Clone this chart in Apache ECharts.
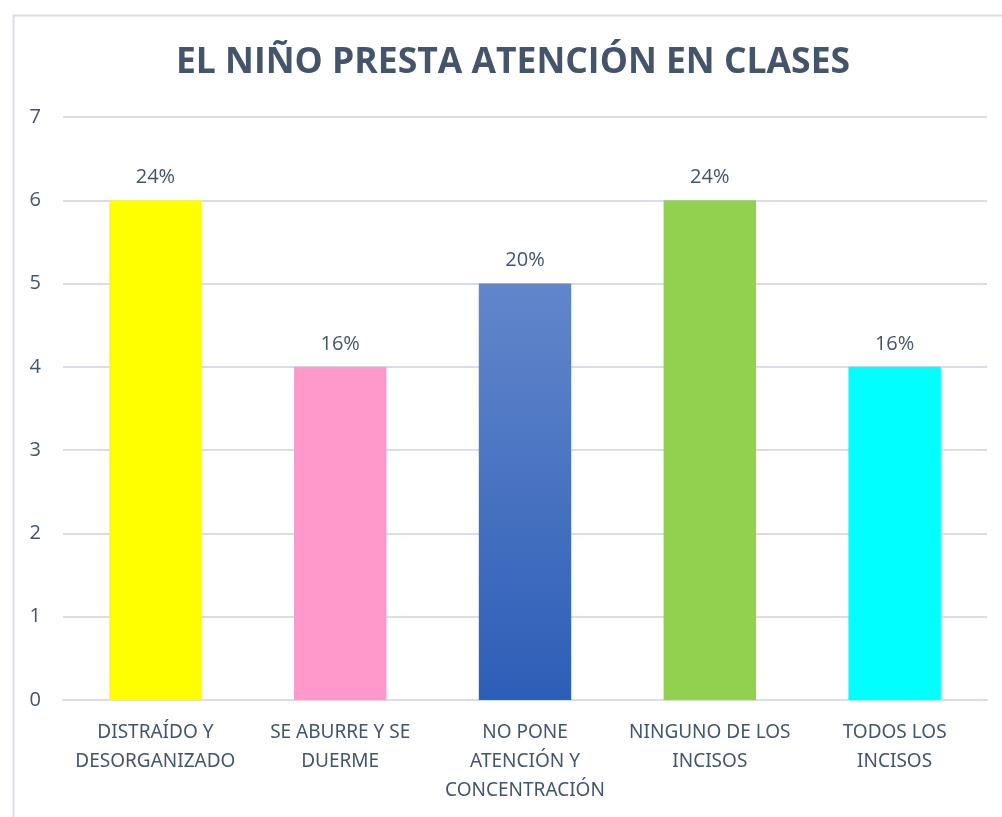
<!DOCTYPE html>
<html>
<head>
<meta charset="utf-8">
<script src="https://cdn.jsdelivr.net/npm/echarts@6/dist/echarts.min.js"></script>
<style>
html,body{margin:0;padding:0;background:#fff;}
#chart{width:1002px;height:817px;}
</style>
</head>
<body>
<div id="chart"></div>
<script>
const titleText = 'EL NIÑO PRESTA ATENCIÓN EN CLASES';
const categories = ['DISTRAÍDO Y\nDESORGANIZADO', 'SE ABURRE Y SE\nDUERME', 'NO PONE\nATENCIÓN Y\nCONCENTRACIÓN', 'NINGUNO DE LOS\nINCISOS', 'TODOS LOS\nINCISOS'];
const values = [6, 4, 5, 6, 4];
const percentLabels = ['24%', '16%', '20%', '24%', '16%'];
const yTicks = [0, 1, 2, 3, 4, 5, 6, 7];

const textColor = '#44546A';
const fontFam = '"Liberation Sans Narrow", "Noto Sans", sans-serif';
const barColors = [
  '#FFFF00',
  '#FF99CC',
  {type:'linear', x:0, y:0, x2:0, y2:1, colorStops:[{offset:0, color:'#6286CB'},{offset:1, color:'#2D5EB7'}]},
  '#92D050',
  '#00FFFF'
];

const chart = echarts.init(document.getElementById('chart'));
chart.setOption({
  backgroundColor: '#fff',
  animation: false,
  title: {
    text: titleText,
    left: 508,
    textAlign: 'center',
    top: 40,
    textStyle: {color: textColor, fontSize: 35.5, fontWeight: 'bold', fontFamily: '"Open Sans", sans-serif'}
  },
  graphic: [{
    type: 'rect', left: 11, top: 13, shape: {width: 1100, height: 900},
    style: {fill: 'none', stroke: '#D9DEE6', lineWidth: 2}, silent: true, z: -1
  }],
  grid: {left: 63, right: 15, top: 117, bottom: 117, containLabel: false},
  xAxis: {
    type: 'category',
    data: categories,
    axisTick: {show: false},
    axisLine: {lineStyle: {color: '#D9DEE6', width: 2}},
    axisLabel: {color: textColor, fontSize: 19, fontFamily: fontFam, lineHeight: 29, margin: 18, interval: 0}
  },
  yAxis: {
    type: 'value',
    min: yTicks[0], max: yTicks[yTicks.length - 1], interval: 1,
    axisLine: {show: false},
    axisTick: {show: false},
    splitLine: {lineStyle: {color: '#D9DEE6', width: 2}},
    axisLabel: {color: textColor, fontSize: 20, fontFamily: '"Open Sans", sans-serif', margin: 22}
  },
  series: [{
    type: 'bar',
    barWidth: '50%',
    data: values.map((v, i) => ({value: v, itemStyle: {color: barColors[i]}})),
    label: {
      show: true, position: 'top', distance: 13,
      color: textColor, fontSize: 20, fontFamily: '"Open Sans", sans-serif',
      formatter: p => percentLabels[p.dataIndex]
    }
  }]
});
</script>
</body>
</html>
